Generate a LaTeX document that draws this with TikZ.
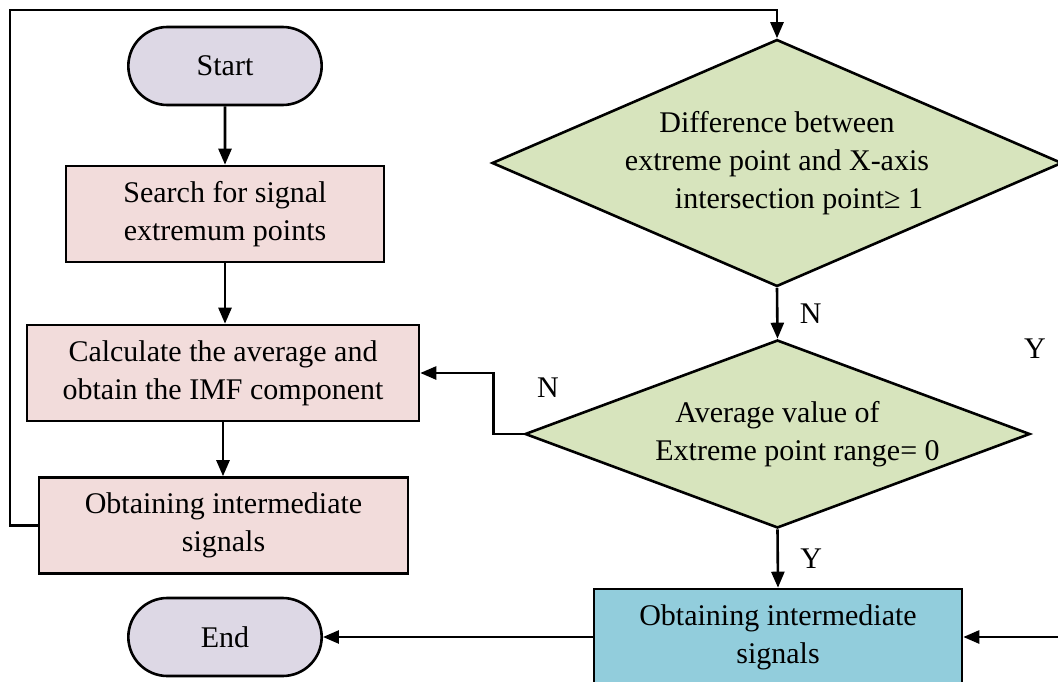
\documentclass[tikz,border=0pt]{standalone}
\usepackage{fontspec}
\setmainfont{Liberation Serif}
\usetikzlibrary{shapes.geometric,shapes.misc,arrows.meta}

\definecolor{termfill}{HTML}{DDD8E5}
\definecolor{procfill}{HTML}{F2DCDB}
\definecolor{decfill}{HTML}{D7E4BD}
\definecolor{outfill}{HTML}{92CDDC}

\begin{document}
\begin{tikzpicture}[
    x=1pt, y=-1pt,
    line width=2.6pt,
    font=\fontsize{30}{38}\selectfont,
    term/.style = {
      rounded rectangle, draw, fill=termfill,
      minimum width=200pt, minimum height=78pt
    }, proc/.style = {
      rectangle, draw, fill=procfill, align=center,
      minimum height=96pt, inner sep=0pt
    }, decision/.style = {
      diamond, draw, fill=decfill, align=center, inner sep=0pt
    }, flow/.style = {
      -{Triangle[length=16pt,width=13pt]}
    }
  ]
    \useasboundingbox (0,0) rectangle (1058,682);
    \clip (0,0) rectangle (1058,682);
    % left column
    \node[term] (start) at (225,66) {Start};
    \node[proc, minimum width=318pt] (search) at (225,214)
      {Search for signal\\extremum points};
    \node[proc, minimum width=392pt] (calc) at (223,373)
      {Calculate the average and\\obtain the IMF component};
    \node[proc, minimum width=369pt] (inter) at (223.5,525.5)
      {Obtaining intermediate\\signals};
    \node[term] (end) at (225,637) {End};
    % right column
    \node[decision, aspect=2.3, minimum width=570pt, minimum height=247pt] (diff) at (777,163)
      {Difference between\\extreme point and X-axis\\\hspace*{44pt}intersection point≥ 1};
    \node[decision, aspect=2.7, minimum width=505pt, minimum height=188pt] (avg) at (777.5,434)
      {Average value of\\\hspace*{40pt}Extreme point range= 0};
    \node[proc, fill=outfill, minimum width=368pt] (out) at (778,637)
      {Obtaining intermediate\\signals};
    \coordinate (loop) at (10,10);
    \coordinate (edge) at (1070,637);
    % connectors
    \draw[flow] (start) -- (search);
    \draw[flow] (search.south) -- (search.south |- calc.north);
    \draw[flow] (calc.south) -- (calc.south |- inter.north);
    \draw[flow] (inter.west) -| (loop) -| (diff.north);
    \draw[flow] (diff.south) -- node[right=18pt] (lblN1) {N} (avg.north);
    \draw[flow] (avg.west) -- ++(-30,0) |- (calc.east);
    \draw[flow] (avg.south) -- node[right=18pt] (lblY1) {Y} (out.north);
    \draw[flow] (out.west) -- (end.east);
    \draw[flow] (edge) -- (out.east);
    \node (lblN2) at (548,388) {N};
    \node (lblY2) at (1035,349) {Y};
\end{tikzpicture}
\end{document}
